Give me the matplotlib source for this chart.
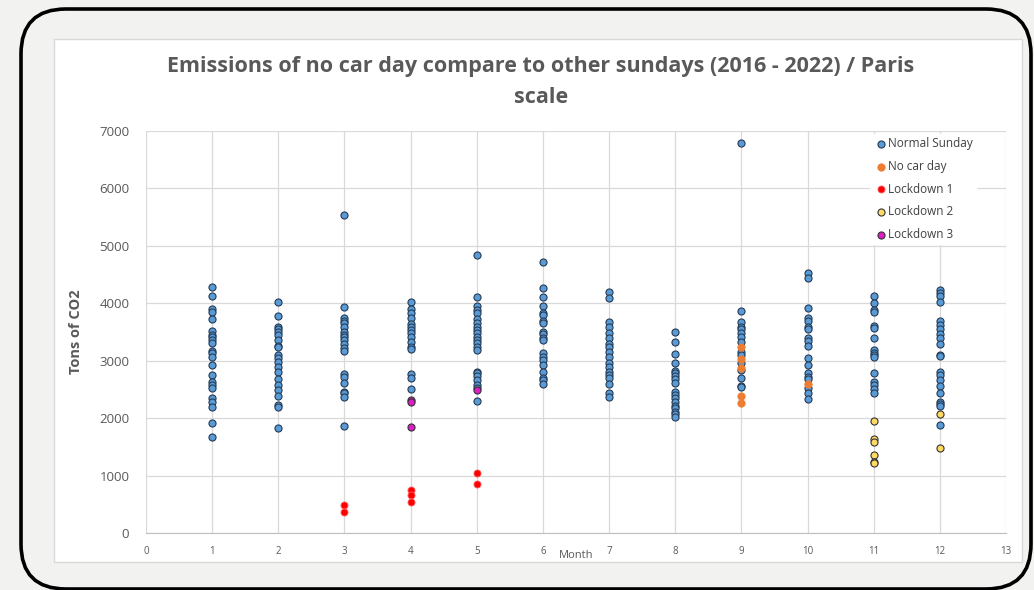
import numpy as np
import matplotlib
matplotlib.use("Agg")
import matplotlib.pyplot as plt
from matplotlib.patches import FancyBboxPatch, Rectangle

plt.rcParams['font.family'] = ['Open Sans', 'DejaVu Sans']

# Data (month -> tons of CO2)
normal = {
    1: [4289, 4127, 3895, 3853, 3721, 3523, 3448, 3418, 3361, 3303, 3174, 3129, 3059, 2931,
        2751, 2635, 2577, 2520, 2356, 2286, 2199, 1910, 1666],
    2: [4028, 3779, 3592, 3547, 3506, 3448, 3361, 3256, 3233, 3099, 3041, 2983, 2896, 2809,
        2676, 2577, 2490, 2386, 2229, 2189, 1823],
    3: [5537, 3941, 3738, 3697, 3651, 3582, 3506, 3448, 3408, 3361, 3291, 3216, 3169, 2769,
        2722, 2607, 2461, 2432, 2363, 1863],
    4: [4028, 3895, 3825, 3738, 3639, 3592, 3535, 3477, 3418, 3331, 3244, 3199, 2769, 2694, 2502],
    5: [4841, 4104, 3953, 3883, 3825, 3721, 3662, 3592, 3535, 3477, 3418, 3361, 3314, 3244,
        3187, 2809, 2781, 2734, 2664, 2577, 2519, 2304],
    6: [4724, 4272, 4115, 3958, 3825, 3796, 3691, 3651, 3506, 3465, 3390, 3361, 3129, 3070,
        3012, 2925, 2798, 2694, 2664, 2594],
    7: [4202, 4086, 3680, 3582, 3489, 3390, 3291, 3233, 3157, 3070, 2965, 2896, 2809, 2751,
        2694, 2594, 2432, 2373],
    8: [3495, 3321, 3112, 2954, 2821, 2781, 2734, 2676, 2607, 2461, 2403, 2345, 2286, 2211,
        2171, 2112, 2072, 2014],
    9: [6786, 3871, 3680, 3593, 3547, 3489, 3408, 3331, 3157, 3099, 2954, 2838, 2694, 2560, 2548],
    10: [4533, 4446, 3913, 3738, 3697, 3593, 3547, 3390, 3349, 3256, 3041, 2925, 2781, 2722,
         2676, 2520, 2432, 2328],
    11: [4127, 4010, 3883, 3853, 3604, 3564, 3390, 3187, 3140, 3099, 3059, 2781, 2635, 2577,
         2502, 2432],
    12: [4231, 4184, 4127, 4028, 3697, 3622, 3547, 3465, 3390, 3291, 3099, 3082, 2809, 2751,
         2664, 2560, 2432, 2286, 2246, 2211, 1881],
}
no_car_month = [9, 9, 9, 9, 9, 10]
no_car_val = [3233, 3024, 2879, 2391, 2258, 2594]
lock1_month = [3, 3, 4, 4, 4, 5, 5]
lock1_val = [488, 371, 749, 662, 545, 1040, 853]
lock2_month = [11, 11, 11, 11, 11, 11, 12, 12]
lock2_val = [1950, 1631, 1590, 1358, 1242, 1213, 2072, 1475]
lock3_month = [4, 4, 4, 5]
lock3_val = [2316, 2286, 1851, 2490]

norm_month = [m for m in normal for _ in normal[m]]
norm_val = [v for m in normal for v in normal[m]]

fig = plt.figure(figsize=(10.34, 5.9), dpi=100, facecolor='#f2f2f0')

# rounded black frame and white chart area (behind the axes)
fig.patches.append(FancyBboxPatch((0.21, 0.01), 10.10, 5.80,
                                  boxstyle="round,pad=0,rounding_size=0.45",
                                  transform=fig.dpi_scale_trans, facecolor='#f2f2f0',
                                  edgecolor='black', linewidth=2.6, zorder=-2))
fig.patches.append(Rectangle((0.54, 0.28), 9.68, 5.23, transform=fig.dpi_scale_trans,
                             facecolor='white', edgecolor='#d9d9d9', linewidth=1, zorder=-1))

ax = fig.add_axes([0.1412, 0.0966, 0.8317, 0.6814])
ax.set_zorder(2)
ax.set_facecolor('white')

ax.scatter(norm_month, norm_val, s=26, c='#5b9bd5', edgecolors='#243b55', linewidths=0.8,
           label='Normal Sunday', zorder=3)
ax.scatter(no_car_month, no_car_val, s=28, c='#ed7d31', edgecolors='#ed7d31', linewidths=0.6,
           label='No car day', zorder=4)
ax.scatter(lock1_month, lock1_val, s=26, c='#ff0000', edgecolors='#ff6060', linewidths=0.6,
           label='Lockdown 1', zorder=4)
ax.scatter(lock2_month, lock2_val, s=26, c='#ffd966', edgecolors='#333333', linewidths=0.8,
           label='Lockdown 2', zorder=4)
ax.scatter(lock3_month, lock3_val, s=26, c='#e01cc8', edgecolors='#333333', linewidths=0.8,
           label='Lockdown 3', zorder=4)

ax.set_xlim(0, 13)
ax.set_ylim(0, 7000)
ax.set_xticks(range(0, 14))
ax.set_yticks(range(0, 7001, 1000))
ax.grid(True, color='#d9d9d9', linewidth=0.9, zorder=0)
ax.set_axisbelow(True)
for side in ['top', 'right', 'left']:
    ax.spines[side].set_visible(False)
ax.spines['bottom'].set_color('#bfbfbf')
ax.tick_params(axis='both', length=0, colors='#595959')
ax.tick_params(axis='x', labelsize=7, pad=9)
ax.tick_params(axis='y', labelsize=9.5, pad=12)

ax.set_xlabel('Month', fontsize=8, color='#595959', labelpad=-5)
ax.set_ylabel('Tons of CO2', fontsize=10.5, fontweight='bold', color='#595959', labelpad=12)

fig.text(0.523, 0.887, 'Emissions of no car day compare to other sundays (2016 - 2022) / Paris',
         ha='center', va='center', fontsize=15.5, fontweight='bold', color='#595959')
fig.text(0.523, 0.834, 'scale', ha='center', va='center', fontsize=15.5,
         fontweight='bold', color='#595959')

leg = ax.legend(loc='upper right', bbox_to_anchor=(0.972, 1.008), frameon=True,
                facecolor='white', edgecolor='white', framealpha=1, fontsize=8.5,
                handletextpad=0.0, handlelength=1.2, labelspacing=0.82,
                markerscale=1.0, borderpad=0.3)
for t in leg.get_texts():
    t.set_color('#404040')

fig.savefig('out.png', dpi=100, facecolor=fig.get_facecolor())
